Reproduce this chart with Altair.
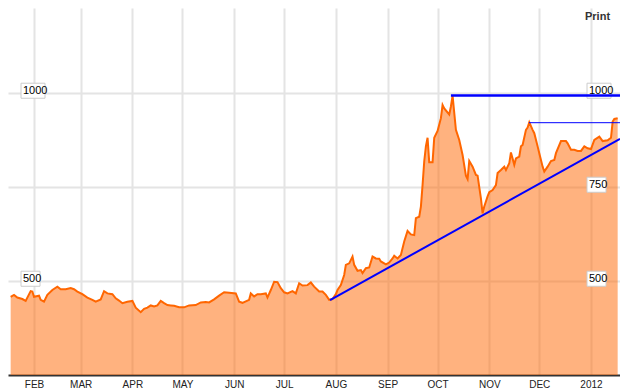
import altair as alt
import pandas as pd

# ---- data (days counted from 2011-01-01) ----
days = [17, 19, 21, 24, 26, 29, 30, 31, 34, 35,
        37, 39, 42, 45, 47, 50, 53, 55, 57, 60,
        63, 66, 68, 71, 73, 75, 78, 80, 82, 84,
        87, 90, 92, 95, 97, 99, 101, 103, 105, 107,
        109, 111, 113, 115, 118, 121, 124, 128, 131, 134,
        136, 139, 142, 145, 148, 152, 154, 156, 159, 160,
        161, 163, 165, 167, 170, 171, 173, 175, 177, 179,
        181, 183, 186, 188, 190, 192, 195, 197, 199, 202,
        204, 206, 208, 210, 212, 213, 215, 217, 218, 220,
        222, 223, 225, 227, 228, 230, 232, 234, 236, 238,
        239, 242, 244, 246, 247, 249, 251, 253, 255, 257,
        259, 260, 262, 263, 264, 265, 266, 267, 268, 270,
        271, 273, 275, 276, 277, 280, 281, 282, 284, 286,
        288, 290, 291, 292, 294, 296, 297, 299, 300, 301,
        303, 304, 306, 308, 309, 311, 313, 314, 316, 317,
        319, 320, 322, 323, 324, 326, 327, 328, 330, 331,
        333, 334, 336, 337, 339, 341, 343, 344, 347, 350,
        351, 353, 355, 357, 359, 361, 363, 365, 367, 370,
        372, 375, 377, 378, 379, 381]

prices = [458, 463, 456, 452, 447, 473, 472, 458, 461, 450,
          445, 463, 476, 485, 478, 478, 481, 478, 472, 465,
          456, 450, 445, 451, 473, 467, 465, 454, 448, 441,
          445, 447, 429, 417, 426, 429, 435, 432, 435, 447,
          441, 436, 435, 434, 430, 430, 435, 436, 443, 444,
          443, 451, 461, 470, 469, 467, 445, 442, 448, 450,
          467, 459, 465, 465, 467, 456, 476, 498, 497, 481,
          470, 467, 473, 467, 494, 488, 489, 496, 485, 472,
          472, 463, 450, 452, 465, 476, 489, 516, 543, 547,
          565, 543, 527, 529, 521, 534, 536, 565, 560, 559,
          552, 544, 549, 560, 567, 560, 569, 605, 633, 624,
          622, 667, 671, 698, 755, 818, 858, 881, 816, 816,
          881, 899, 933, 968, 959, 943, 964, 993, 902, 875,
          835, 780, 771, 819, 804, 782, 780, 720, 680, 698,
          725, 736, 742, 755, 787, 795, 804, 795, 813, 842,
          809, 826, 831, 858, 862, 902, 908, 922, 902, 893,
          858, 840, 804, 791, 804, 819, 822, 840, 872, 872,
          866, 849, 849, 846, 846, 858, 853, 851, 875, 884,
          872, 874, 881, 924, 931, 933]

# x-axis domain (days from 2011-01-01)
domain_days = [15.4, 382.4]
# month tick positions
tick_dates = ["2011-02-01", "2011-03-01", "2011-04-01", "2011-05-01", "2011-06-01",
              "2011-07-01", "2011-08-01", "2011-09-01", "2011-10-01", "2011-11-01",
              "2011-12-01", "2012-01-01"]
# drawn trend / resistance lines: (start day, start value, end value at right edge)
trend_line = [208.5, 449, 878]
high_line = [281, 993]
second_high_line = [327.8, 921]
# boxed price labels
left_labels = [1000, 500]
right_labels = [1000, 750, 500]
y_domain = [250, 1226]

base_date = pd.Timestamp("2011-01-01")


def to_ts(d):
    return base_date + pd.to_timedelta(d, unit="D")


def to_dt(ts):
    ts = pd.Timestamp(ts)
    return alt.DateTime(year=ts.year, month=ts.month, date=ts.day,
                        hours=ts.hour, minutes=ts.minute)


df = pd.DataFrame({"date": [to_ts(d) for d in days], "price": prices})

x_scale = alt.Scale(domain=[to_dt(to_ts(domain_days[0])), to_dt(to_ts(domain_days[1]))])
y_scale = alt.Scale(domain=y_domain, nice=False, zero=False)

label_expr = ("timeFormat(datum.value, '%m') == '01' ? timeFormat(datum.value, '%Y') : "
              "upper(timeFormat(datum.value, '%b'))")

x_axis = alt.Axis(values=[to_dt(t) for t in tick_dates], labelExpr=label_expr,
                  grid=True, gridColor="#e4e4e4", gridWidth=2, ticks=False,
                  domainColor="#333333", domainWidth=2, labelFont="Liberation Sans",
                  labelFontSize=10, labelColor="#222222", labelPadding=4,
                  labelOverlap=False, labelFlush=False, title=None)
y_axis = alt.Axis(values=[500, 750, 1000], grid=True, gridColor="#e4e4e4", gridWidth=2,
                  labels=False, ticks=False, domain=False, title=None)

base = alt.Chart(df)
area = base.mark_area(color="#FF6600", opacity=0.5).encode(
    x=alt.X("date:T", scale=x_scale, axis=x_axis),
    y=alt.Y("price:Q", scale=y_scale, axis=y_axis),
    y2=alt.Y2(datum=y_domain[0]),
)
line = base.mark_line(color="#FF6600", strokeWidth=2).encode(
    x=alt.X("date:T", scale=x_scale),
    y=alt.Y("price:Q", scale=y_scale),
)

# boxed labels
layers = [area, line]
lab_rows = ([{"side": "left", "v": v, "t": str(v)} for v in left_labels] +
            [{"side": "right", "v": v, "t": str(v)} for v in right_labels])
for r in lab_rows:
    x0 = 13 if r["side"] == "left" else 579
    w = 24 if len(r["t"]) == 4 else 19
    ldf = pd.DataFrame([{"v": r["v"], "lo": r["v"] - 14, "hi": r["v"] + 26, "t": r["t"]}])
    box = alt.Chart(ldf).mark_rect(fill="white", stroke="#cccccc", strokeWidth=1).encode(
        x=alt.value(x0), x2=alt.value(x0 + w),
        y=alt.Y("lo:Q", scale=y_scale), y2="hi:Q")
    txt = alt.Chart(ldf).mark_text(align="left", baseline="middle", dy=-2,
                                   font="Liberation Sans", fontSize=11,
                                   color="black").encode(
        x=alt.value(x0 + 2), y=alt.Y("v:Q", scale=y_scale), text="t:N")
    layers += [box, txt]

end_ts = to_ts(domain_days[1])
trend_df = pd.DataFrame([{"s": to_ts(trend_line[0]), "e": end_ts,
                          "v1": trend_line[1], "v2": trend_line[2]}])
high_df = pd.DataFrame([{"s": to_ts(high_line[0]), "e": end_ts,
                         "v1": high_line[1], "v2": high_line[1]}])
high2_df = pd.DataFrame([{"s": to_ts(second_high_line[0]), "e": end_ts,
                          "v1": second_high_line[1], "v2": second_high_line[1]}])


def rule(d, w):
    return alt.Chart(d).mark_rule(color="#0000FF", strokeWidth=w).encode(
        x=alt.X("s:T", scale=x_scale), x2="e:T",
        y=alt.Y("v1:Q", scale=y_scale), y2="v2:Q")


layers += [rule(trend_df, 2), rule(high_df, 2.5), rule(high2_df, 1)]

print_txt = alt.Chart(pd.DataFrame([{"t": "Print"}])).mark_text(
    align="left", baseline="middle", font="Liberation Sans", fontSize=11,
    fontWeight="bold", color="#333333").encode(
    x=alt.value(577), y=alt.value(9), text="t:N")
layers.append(print_txt)

chart = alt.layer(*layers).properties(
    width=612, height=367,
    padding={"left": 0, "top": 0, "right": 0, "bottom": 20},
    autosize=alt.AutoSizeParams(type="none"),
    background="white",
).configure_view(strokeWidth=0)

chart.save("out.html", embed_options={"renderer": "svg", "actions": False})
